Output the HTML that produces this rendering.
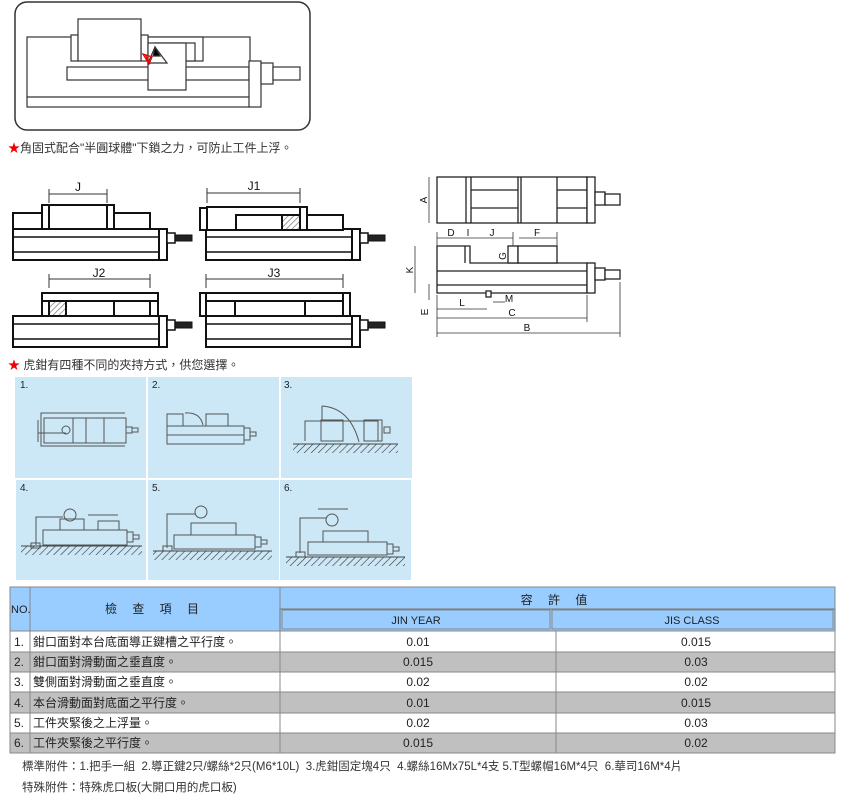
<!DOCTYPE html>
<html><head><meta charset="utf-8"><style>
html,body{margin:0;padding:0;background:#fff;}
svg{display:block;}
text{font-family:"Liberation Sans","Noto Sans CJK TC",sans-serif;}
</style></head><body>
<svg width="846" height="796" viewBox="0 0 846 796" xmlns="http://www.w3.org/2000/svg">
<defs>
<pattern id="h" width="4" height="4" patternUnits="userSpaceOnUse" patternTransform="rotate(45)"><rect width="4" height="4" fill="#fff"/><line x1="0" y1="0" x2="0" y2="4" stroke="#777" stroke-width="1.4"/></pattern>
<pattern id="g" width="5" height="5" patternUnits="userSpaceOnUse" patternTransform="rotate(45)"><line x1="0" y1="0" x2="0" y2="5" stroke="#333" stroke-width="1.2"/></pattern>
<g id="base" fill="#fff" stroke="#111" stroke-width="2">
<rect x="0" y="24" width="146" height="31"/>
<line x1="0" y1="32" x2="146" y2="32" stroke-width="1.5"/>
<line x1="0" y1="47" x2="146" y2="47" stroke-width="1.5"/>
<rect x="146" y="24" width="8" height="31"/>
<rect x="154" y="28" width="8" height="10" stroke-width="1.5"/>
<rect x="162" y="30" width="17" height="6" fill="#222" stroke-width="1"/>
</g>
</defs>

<!-- Top figure -->
<rect x="15" y="2" width="295" height="128" rx="12" fill="#fff" stroke="#333" stroke-width="1.5"/>
<g fill="#fff" stroke="#333" stroke-width="1.2">
<rect x="27" y="37" width="223" height="70"/>
<line x1="27" y1="97" x2="250" y2="97"/>
<rect x="148" y="37" width="55" height="24"/>
<rect x="155" y="43" width="40" height="18"/>
<rect x="71" y="35" width="7" height="26"/>
<rect x="141" y="35" width="7" height="26"/>
<rect x="78" y="19" width="63" height="42"/>
<rect x="67" y="67" width="182" height="13"/>
<rect x="148" y="43" width="38" height="47"/>
<polygon points="155,47 167,63 148,63" fill="#fff"/>
<polygon points="155,47 160,56 153,56" fill="#000"/>
<rect x="249" y="61" width="12" height="46"/>
<rect x="261" y="63" width="12" height="21"/>
<rect x="273" y="67" width="27" height="13"/>
</g>
<g stroke="#e00" stroke-width="1.3" fill="none"><path d="M143 54 L152 57 L149 64 Z M145 54 L150 64"/></g>

<text x="8" y="152" font-size="12" fill="#333"><tspan fill="#e00">★</tspan>角固式配合"半圓球體"下鎖之力，可防止工件上浮。</text>

<!-- small vices -->
<g fill="#fff" stroke="#111" stroke-width="2">
<!-- J -->
<use href="#base" x="13" y="205"/>
<rect x="13" y="213" width="137" height="16"/>
<rect x="42" y="205" width="72" height="24"/>
<line x1="49" y1="205" x2="49" y2="229"/>
<line x1="107" y1="205" x2="107" y2="229"/>
<!-- J1 -->
<use href="#base" x="206" y="205"/>
<rect x="200" y="208" width="7" height="22"/>
<rect x="207" y="207" width="100" height="23"/>
<rect x="236" y="215" width="107" height="15"/>
<rect x="282" y="215" width="18" height="15" fill="url(#h)"/>
<rect x="300" y="207" width="7" height="23"/>
<!-- J2 -->
<use href="#base" x="13" y="292"/>
<rect x="42" y="293" width="116" height="23"/>
<line x1="49" y1="301" x2="150" y2="301"/>
<rect x="42" y="301" width="7" height="15"/>
<rect x="150" y="301" width="8" height="15"/>
<rect x="49" y="301" width="17" height="15" fill="url(#h)"/>
<line x1="114" y1="301" x2="114" y2="316"/>
<!-- J3 -->
<use href="#base" x="206" y="292"/>
<rect x="200" y="293" width="150" height="23"/>
<line x1="206" y1="301" x2="343" y2="301"/>
<line x1="206" y1="293" x2="206" y2="316"/>
<line x1="343" y1="293" x2="343" y2="316"/>
<line x1="235" y1="301" x2="235" y2="316"/>
<line x1="305" y1="301" x2="305" y2="316"/>
</g>
<g stroke="#333" stroke-width="1" fill="none">
<line x1="49" y1="194" x2="107" y2="194"/><line x1="49" y1="189" x2="49" y2="203"/><line x1="107" y1="189" x2="107" y2="203"/>
<line x1="207" y1="193" x2="300" y2="193"/><line x1="207" y1="188" x2="207" y2="203"/><line x1="300" y1="188" x2="300" y2="203"/>
<line x1="49" y1="279" x2="150" y2="279"/><line x1="49" y1="274" x2="49" y2="288"/><line x1="150" y1="274" x2="150" y2="288"/>
<line x1="206" y1="279" x2="343" y2="279"/><line x1="206" y1="274" x2="206" y2="288"/><line x1="343" y1="274" x2="343" y2="288"/>
</g>
<g font-size="12" fill="#111" text-anchor="middle">
<text x="78" y="191">J</text><text x="254" y="190">J1</text><text x="99" y="277">J2</text><text x="274" y="277">J3</text>
</g>

<!-- right dimension drawing -->
<g fill="#fff" stroke="#222" stroke-width="1.3">
<rect x="437" y="177" width="150" height="46"/>
<line x1="466" y1="177" x2="466" y2="223"/><line x1="471" y1="177" x2="471" y2="223"/>
<line x1="518" y1="177" x2="518" y2="223"/><line x1="521" y1="177" x2="521" y2="223"/>
<line x1="557" y1="177" x2="557" y2="223"/>
<line x1="471" y1="190" x2="518" y2="190"/><line x1="471" y1="208" x2="518" y2="208"/>
<line x1="557" y1="190" x2="587" y2="190"/><line x1="557" y1="208" x2="587" y2="208"/>
<rect x="587" y="177" width="8" height="46"/>
<rect x="595" y="192" width="10" height="13"/>
<rect x="605" y="194" width="15" height="11"/>
<polygon points="437,246 470,246 470,263 587,263 587,293 437,293"/>
<line x1="465" y1="246" x2="465" y2="263"/>
<line x1="437" y1="271" x2="587" y2="271"/><line x1="437" y1="285" x2="587" y2="285"/>
<rect x="508" y="246" width="10" height="17"/>
<rect x="518" y="246" width="39" height="17"/>
<rect x="587" y="263" width="8" height="30"/>
<rect x="595" y="268" width="10" height="12"/>
<rect x="605" y="270" width="15" height="9"/>
<rect x="486" y="291" width="5" height="6"/>
</g>
<g stroke="#333" stroke-width="0.8" fill="none">
<line x1="429" y1="177" x2="429" y2="223"/>
<line x1="437" y1="238" x2="513" y2="238"/><line x1="519" y1="238" x2="557" y2="238"/>
<line x1="437" y1="232" x2="437" y2="246"/><line x1="513" y1="232" x2="513" y2="246"/><line x1="557" y1="232" x2="557" y2="246"/>
<line x1="415" y1="246" x2="415" y2="293"/>
<line x1="429" y1="284" x2="429" y2="300"/>
<line x1="437" y1="309" x2="487" y2="309"/><line x1="493" y1="302" x2="505" y2="302"/>
<line x1="437" y1="318" x2="587" y2="318"/>
<line x1="437" y1="333" x2="620" y2="333"/>
<line x1="437" y1="295" x2="437" y2="337"/><line x1="587" y1="295" x2="587" y2="322"/><line x1="620" y1="282" x2="620" y2="337"/>
</g>
<g font-size="10" fill="#111" text-anchor="middle">
<text x="451" y="236">D</text><text x="468" y="236">I</text><text x="492" y="236">J</text><text x="537" y="236">F</text>
<text x="462" y="306">L</text><text x="509" y="302">M</text><text x="512" y="316">C</text><text x="527" y="331">B</text>
<text transform="translate(427,200) rotate(-90)">A</text>
<text transform="translate(413,270) rotate(-90)">K</text>
<text transform="translate(506,256) rotate(-90)">G</text>
<text transform="translate(428,312) rotate(-90)">E</text>
</g>

<text x="8" y="369" font-size="12" fill="#333"><tspan fill="#e00">★</tspan> 虎鉗有四種不同的夾持方式，供您選擇。</text>

<!-- blue panels -->
<g fill="#cce8f7">
<rect x="15" y="377" width="131" height="101"/><rect x="148" y="377" width="131" height="101"/><rect x="281" y="377" width="131" height="101"/>
<rect x="16" y="480" width="130" height="100"/><rect x="148" y="480" width="131" height="100"/><rect x="280" y="480" width="131" height="100"/>
</g>
<g font-size="10" fill="#222"><text x="20" y="388">1.</text><text x="152" y="388">2.</text><text x="284" y="388">3.</text><text x="20" y="491">4.</text><text x="152" y="491">5.</text><text x="284" y="491">6.</text></g>
<g fill="none" stroke="#555" stroke-width="1">
<!-- 1 -->
<path d="M125 413 H41 V446 H125"/><rect x="44" y="418" width="82" height="25"/><line x1="73" y1="418" x2="73" y2="443"/><line x1="86" y1="418" x2="86" y2="443"/><line x1="104" y1="418" x2="104" y2="443"/>
<rect x="126" y="427" width="6" height="6"/><rect x="132" y="428" width="6" height="4"/><circle cx="66" cy="430" r="4"/><line x1="38" y1="433" x2="66" y2="433"/><line x1="38" y1="420" x2="38" y2="442"/>
<!-- 2 -->
<rect x="167" y="426" width="77" height="18"/><path d="M167 426 V414 H183 V426"/><rect x="206" y="414" width="22" height="12"/><rect x="244" y="428" width="6" height="12"/><rect x="250" y="432" width="6" height="4"/><path d="M185 413 Q200 412 203 425"/><line x1="167" y1="435" x2="244" y2="435"/>
<!-- 3 -->
<path d="M305 441 V421 H378 V441"/><rect x="321" y="420" width="22" height="21"/><rect x="364" y="420" width="18" height="21"/><rect x="384" y="427" width="6" height="6"/><path d="M322 406 V420 M322 406 Q350 408 359 442"/>
<!-- 4 -->
<rect x="43" y="530" width="84" height="15"/><rect x="60" y="519" width="24" height="11"/><rect x="98" y="521" width="21" height="9"/><rect x="127" y="532" width="6" height="10"/><rect x="133" y="535" width="6" height="4"/><circle cx="70" cy="515" r="6"/><path d="M36 545 V517 H63"/><rect x="31" y="543" width="9" height="5"/><line x1="88" y1="515" x2="118" y2="515"/>
<!-- 5 -->
<rect x="174" y="535" width="81" height="14"/><rect x="191" y="523" width="45" height="12"/><rect x="255" y="537" width="6" height="10"/><rect x="261" y="540" width="6" height="4"/><circle cx="201" cy="512" r="6"/><path d="M167 548 V514 H195"/><rect x="163" y="546" width="9" height="5"/>
<!-- 6 -->
<rect x="308" y="542" width="79" height="13"/><rect x="323" y="531" width="45" height="11"/><rect x="387" y="544" width="6" height="10"/><rect x="393" y="547" width="6" height="4"/><circle cx="332" cy="520" r="6"/><path d="M300 553 V518 H326"/><rect x="296" y="552" width="9" height="5"/><line x1="318" y1="509" x2="348" y2="509"/>
</g>
<g stroke="#444" stroke-width="1">
<line x1="293" y1="444" x2="398" y2="444"/><line x1="21" y1="546" x2="142" y2="546"/><line x1="153" y1="551" x2="272" y2="551"/><line x1="286" y1="557" x2="405" y2="557"/>
</g>
<rect x="293" y="444" width="105" height="9" fill="url(#g)"/>
<rect x="21" y="546" width="121" height="9" fill="url(#g)"/>
<rect x="153" y="551" width="119" height="9" fill="url(#g)"/>
<rect x="286" y="557" width="119" height="9" fill="url(#g)"/>

<!-- table -->
<rect x="10" y="587" width="825" height="44" fill="#99ccff" stroke="#888" stroke-width="1"/>
<line x1="30" y1="587" x2="30" y2="631" stroke="#888"/>
<line x1="280" y1="587" x2="280" y2="631" stroke="#888"/>
<rect x="280" y="609" width="555" height="22" fill="#99ccff" stroke="#777"/>
<rect x="282" y="610" width="268" height="19" fill="#99ccff" stroke="#888"/>
<rect x="552" y="610" width="281" height="19" fill="#99ccff" stroke="#888"/>
<g fill="#c0c0c0"><rect x="10" y="652" width="825" height="20"/><rect x="10" y="692" width="825" height="21"/><rect x="10" y="733" width="825" height="20"/></g>
<g stroke="#888" stroke-width="1" fill="none">
<rect x="10" y="631" width="825" height="122"/>
<line x1="10" y1="652" x2="835" y2="652"/><line x1="10" y1="672" x2="835" y2="672"/><line x1="10" y1="692" x2="835" y2="692"/><line x1="10" y1="713" x2="835" y2="713"/><line x1="10" y1="733" x2="835" y2="733"/>
<line x1="30" y1="631" x2="30" y2="753"/><line x1="280" y1="631" x2="280" y2="753"/><line x1="556" y1="631" x2="556" y2="753"/>
</g>
<g font-size="12" fill="#222">
<text x="11" y="613" font-size="11">NO.</text>
<text x="155" y="613" text-anchor="middle" letter-spacing="6">檢 查 項 目</text>
<text x="557" y="604" text-anchor="middle" letter-spacing="6">容 許 值</text>
<text x="416" y="624" text-anchor="middle" font-size="11">JIN YEAR</text>
<text x="692" y="624" text-anchor="middle" font-size="11">JIS CLASS</text>
<text x="14" y="646">1.</text><text x="33" y="646">鉗口面對本台底面導正鍵槽之平行度。</text><text x="418" y="646" text-anchor="middle">0.01</text><text x="696" y="646" text-anchor="middle">0.015</text>
<text x="14" y="666">2.</text><text x="33" y="666">鉗口面對滑動面之垂直度。</text><text x="418" y="666" text-anchor="middle">0.015</text><text x="696" y="666" text-anchor="middle">0.03</text>
<text x="14" y="686">3.</text><text x="33" y="686">雙側面對滑動面之垂直度。</text><text x="418" y="686" text-anchor="middle">0.02</text><text x="696" y="686" text-anchor="middle">0.02</text>
<text x="14" y="707">4.</text><text x="33" y="707">本台滑動面對底面之平行度。</text><text x="418" y="707" text-anchor="middle">0.01</text><text x="696" y="707" text-anchor="middle">0.015</text>
<text x="14" y="727">5.</text><text x="33" y="727">工件夾緊後之上浮量。</text><text x="418" y="727" text-anchor="middle">0.02</text><text x="696" y="727" text-anchor="middle">0.03</text>
<text x="14" y="747">6.</text><text x="33" y="747">工件夾緊後之平行度。</text><text x="418" y="747" text-anchor="middle">0.015</text><text x="696" y="747" text-anchor="middle">0.02</text>
</g>
<g font-size="11.5" fill="#333">
<text x="22" y="770">標準附件：1.把手一組&#160; 2.導正鍵2只/螺絲*2只(M6*10L)&#160; 3.虎鉗固定塊4只&#160; 4.螺絲16Mx75L*4支 5.T型螺帽16M*4只&#160; 6.華司16M*4片</text>
<text x="22" y="791">特殊附件：特殊虎口板(大開口用的虎口板)</text>
</g>
</svg>
</body></html>
